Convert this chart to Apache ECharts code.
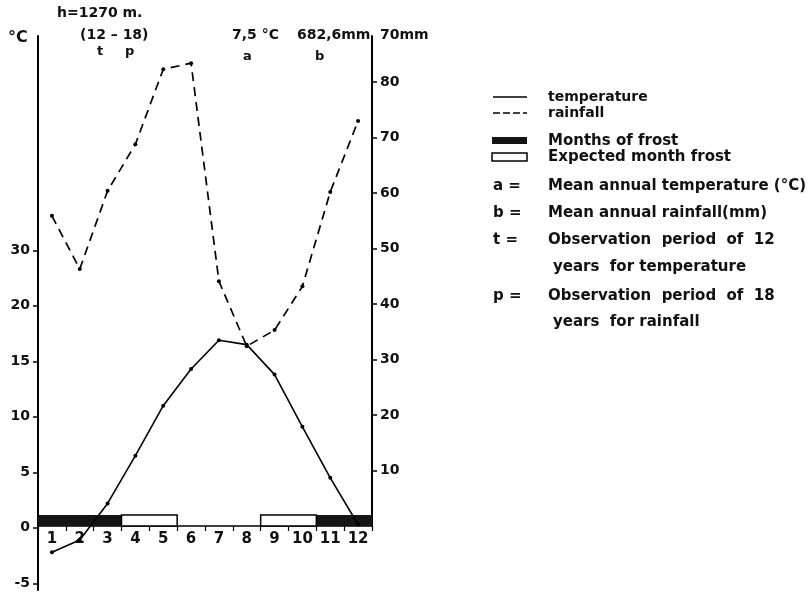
<!DOCTYPE html>
<html>
<head>
<meta charset="utf-8">
<script src="https://cdn.jsdelivr.net/npm/echarts@6/dist/echarts.min.js"></script>
<style>
html,body{margin:0;padding:0;background:#fff;}
#chart{width:812px;height:594px;}
</style>
</head>
<body>
<div id="chart"></div>
<script>
// ---- data ----
const months = ['1','2','3','4','5','6','7','8','9','10','11','12'];
const temperature = [-2.2, -1.1, 2.2, 6.5, 11.0, 14.3, 16.9, 16.5, 13.8, 9.1, 4.5, 0.3];
const rainfall = [55.9, 46.3, 60.4, 68.8, 82.3, 83.4, 44.1, 32.4, 35.3, 43.2, 60.2, 73.0];
const tempTicks = [-5, 0, 5, 10, 15, 20, 25];
const tempTickLabels = ['-5', '0', '5', '10', '15', '20', '30'];
const rainTicks = [10, 20, 30, 40, 50, 60, 70, 80];
const frostMonths = [[1, 3], [11, 12]];
const expectedFrostMonths = [[4, 5], [9, 10]];
const frostBarHeight = [2];

// ---- chart ----
const FONT = '"DejaVu Sans", sans-serif';
const chart = echarts.init(document.getElementById('chart'));

function spanRender(fill, stroke) {
  return function (params, api) {
    const s = api.value(0) - 1, e = api.value(1) - 1;
    const p0 = api.coord([s, 0]);
    const p1 = api.coord([e, 0]);
    const bw = api.size([1, 0])[0];
    const h = api.size([0, frostBarHeight[0]])[1];
    return {
      type: 'rect',
      shape: { x: p0[0] - bw / 2, y: p0[1] - h, width: p1[0] - p0[0] + bw, height: h },
      style: { fill: fill, stroke: stroke, lineWidth: stroke ? 1.5 : 0 }
    };
  };
}

const txt = (text, x, y, size, align) => ({
  type: 'text', x: x, y: y,
  style: { text: text, font: 'bold ' + (size || 15) + 'px ' + FONT, fill: '#111',
           textAlign: align || 'left', textVerticalAlign: 'middle' }
});

const option = {
  backgroundColor: '#fff',
  animation: false,
  grid: [
    { left: 38, right: 440, top: 36, bottom: 4 },
    { left: 38, right: 440, top: 36, bottom: 68 }
  ],
  xAxis: [
    { type: 'category', gridIndex: 0, data: months, show: false, boundaryGap: true },
    { type: 'category', gridIndex: 1, data: months, boundaryGap: true,
      axisLine: { onZero: false, lineStyle: { color: '#000', width: 1.5 } },
      axisTick: { show: true, length: 5, alignWithLabel: false, lineStyle: { color: '#000', width: 1.2 } },
      axisLabel: { color: '#111', fontFamily: FONT, fontWeight: 'bold', fontSize: 15, margin: 6 },
      splitLine: { show: false } }
  ],
  yAxis: [
    { type: 'value', gridIndex: 0, min: -5.6, max: 44.3, position: 'left',
      axisLine: { show: true, lineStyle: { color: '#000', width: 2 } },
      axisTick: { show: true, length: 5, customValues: tempTicks, lineStyle: { color: '#000', width: 1.5 } },
      axisLabel: { customValues: tempTicks, color: '#111', fontFamily: FONT, fontWeight: 'bold', fontSize: 14, margin: 8,
        formatter: v => tempTickLabels[tempTicks.indexOf(v)] },
      splitLine: { show: false } },
    { type: 'value', gridIndex: 1, min: 0, max: 88.3, position: 'right',
      axisLine: { show: true, lineStyle: { color: '#000', width: 2 } },
      axisTick: { show: true, length: 5, customValues: rainTicks, lineStyle: { color: '#000', width: 1.5 } },
      axisLabel: { customValues: rainTicks, color: '#111', fontFamily: FONT, fontWeight: 'bold', fontSize: 14, margin: 8 },
      splitLine: { show: false } }
  ],
  series: [
    { name: 'Months of frost', type: 'custom', xAxisIndex: 1, yAxisIndex: 1,
      renderItem: spanRender('#151515', null),
      encode: { x: [0, 1], y: 2 },
      data: frostMonths.map(d => [d[0], d[1], 0]), z: 3 },
    { name: 'Expected month frost', type: 'custom', xAxisIndex: 1, yAxisIndex: 1,
      renderItem: spanRender('#fff', '#000'),
      encode: { x: [0, 1], y: 2 },
      data: expectedFrostMonths.map(d => [d[0], d[1], 0]), z: 3 },
    { name: 'temperature', type: 'line', xAxisIndex: 0, yAxisIndex: 0,
      data: temperature, symbol: 'circle', symbolSize: 4,
      itemStyle: { color: '#000' }, lineStyle: { color: '#000', width: 1.6 }, z: 5 },
    { name: 'rainfall', type: 'line', xAxisIndex: 1, yAxisIndex: 1,
      data: rainfall, symbol: 'circle', symbolSize: 4,
      itemStyle: { color: '#000' }, lineStyle: { color: '#000', width: 1.7, type: [9, 6] }, z: 5 }
  ],
  graphic: [
    txt('h=1270 m.', 57, 13, 14),
    txt('°C', 8, 38, 16),
    txt('(12 – 18)', 80, 35, 14),
    txt('t', 97, 52, 13),
    txt('p', 125, 52, 13),
    txt('7,5 °C', 232, 35, 14),
    txt('a', 243, 57, 13),
    txt('682,6mm', 297, 35, 14),
    txt('b', 315, 57, 13),
    txt('70mm', 380, 35, 14),
    // legend
    { type: 'line', shape: { x1: 493, y1: 97, x2: 527, y2: 97 }, style: { stroke: '#000', lineWidth: 1.5 } },
    { type: 'line', shape: { x1: 493, y1: 113, x2: 527, y2: 113 }, style: { stroke: '#000', lineWidth: 1.5, lineDash: [7, 3] } },
    { type: 'rect', shape: { x: 492, y: 137, width: 35, height: 7 }, style: { fill: '#151515' } },
    { type: 'rect', shape: { x: 492, y: 153, width: 35, height: 8 }, style: { fill: '#fff', stroke: '#000', lineWidth: 1.5 } },
    txt('temperature', 548, 97, 14),
    txt('rainfall', 548, 113, 14),
    txt('Months of frost', 548, 141),
    txt('Expected month frost', 548, 157),
    txt('a =', 493, 186),
    txt('Mean annual temperature (°C)', 548, 186),
    txt('b =', 493, 213),
    txt('Mean annual rainfall(mm)', 548, 213),
    txt('t =', 493, 240),
    txt('Observation  period  of  12', 548, 240),
    txt('years  for temperature', 553, 267),
    txt('p =', 493, 296),
    txt('Observation  period  of  18', 548, 296),
    txt('years  for rainfall', 553, 322)
  ]
};
chart.setOption(option);
</script>
</body>
</html>
